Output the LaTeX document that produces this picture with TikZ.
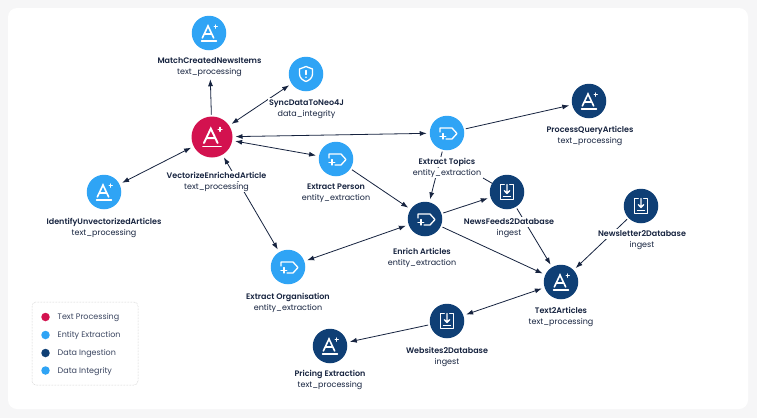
\documentclass[tikz,border=0pt]{standalone}
\usepackage{fontspec}
\setmainfont{Poppins}[BoldFont={Poppins SemiBold}]
\usetikzlibrary{arrows.meta}
\definecolor{pagebg}{HTML}{F6F6F7}
\definecolor{crimson}{HTML}{D3124F}
\definecolor{skyb}{HTML}{2FA4F5}
\definecolor{navyb}{HTML}{0F3F75}
\definecolor{inkb}{HTML}{16233F}
\definecolor{subb}{HTML}{3A4560}
\tikzset{
  x=1pt,y=-1pt,
  circ/.style={circle,inner sep=0pt,minimum size=34.5pt,line width=0},
  lbl/.style={text=inkb,font=\fontsize{8pt}{10pt}\selectfont,fill=white,inner sep=0.8pt,text height=6.5pt,text depth=2pt},
  edge/.style={draw=inkb,line width=0.8pt,-{Latex[length=7pt,width=5pt]},shorten >=3pt,shorten <=2pt},
  both/.style={draw=inkb,line width=0.8pt,{Latex[length=7pt,width=5pt]}-{Latex[length=7pt,width=5pt]},shorten >=3pt,shorten <=3pt},
  iconl/.style={draw=white,line width=1.3pt,line join=round,line cap=round},
  pics/aplus/.style={code={
    \draw[iconl,line width=#1*1.6pt,line join=miter] (-6.7*#1,5*#1) -- (-1*#1,-7*#1) -- (4.7*#1,5*#1) (-4.6*#1,1*#1) -- (2.6*#1,1*#1);
    \draw[iconl,line width=#1*1.4pt] (-7.5*#1,7.8*#1) -- (7.5*#1,7.8*#1);
    \draw[iconl,line width=#1*1.2pt] (6.7*#1,-8*#1) -- (6.7*#1,-4.8*#1) (5.1*#1,-6.4*#1) -- (8.3*#1,-6.4*#1);
  }},
  pics/shield/.style={code={
    \draw[iconl] (0,-7.5) -- (6.5,-5) -- (6.5,0) .. controls (6.5,4) and (3,6.5) .. (0,7.5) .. controls (-3,6.5) and (-6.5,4) .. (-6.5,0) -- (-6.5,-5) -- cycle;
    \draw[iconl] (0,-3.5) -- (0,0.5);
    \fill[white] (0,3.2) circle (0.9);
  }},
  pics/tagplus/.style={code={
    \draw[iconl] (-7,-1) -- (-7,-5) -- (5,-5) -- (10,0.5) -- (5,6) -- (-1,6);
    \draw[iconl] (-4,0.5) -- (-4,6) (-7,3.2) -- (-1.2,3.2);
  }},
  pics/inbox/.style={code={
    \draw[iconl] (-2.8,-7.5) -- (-6.7,-7.5) -- (-6.7,7.5) -- (6.7,7.5) -- (6.7,-7.5) -- (2.8,-7.5);
    \draw[iconl] (0,-7.5) -- (0,1) (-2.6,-1.3) -- (0,1.5) -- (2.6,-1.3);
    \draw[iconl] (-3.5,4.4) -- (3.5,4.4);
  }},
}
\newcommand{\lb}[5]{% name x cy title sub
  \node[lbl] (l#1) at (#2,#3-4.7) {\textbf{#4}};
  \node[lbl] (s#1) at (#2,#3+6.3) {#5};
}
\begin{document}
\begin{tikzpicture}
\useasboundingbox (0,0) rectangle (757,418);
\fill[pagebg] (0,0) rectangle (757,418);
\fill[white] (8,8) [rounded corners=9pt] rectangle (748,409);

% nodes
\node[circ,fill=crimson,minimum size=41pt] (vec) at (212,137) {};
\node[circ,fill=skyb] (match) at (209,33) {};
\node[circ,fill=skyb] (sync) at (306,74) {};
\node[circ,fill=skyb] (ident) at (104,192) {};
\node[circ,fill=skyb] (person) at (336,159) {};
\node[circ,fill=skyb] (topics) at (447,133) {};
\node[circ,fill=skyb] (org) at (288,267) {};
\node[circ,fill=navyb] (query) at (589,101) {};
\node[circ,fill=navyb] (enrich) at (425,219) {};
\node[circ,fill=navyb] (feeds) at (507,192) {};
\node[circ,fill=navyb] (letter) at (641,206) {};
\node[circ,fill=navyb] (t2a) at (561,282) {};
\node[circ,fill=navyb] (web) at (447,321) {};
\node[circ,fill=navyb] (price) at (330,346) {};
\coordinate (cut) at (483,178);

% connectors
\draw[edge,shorten >=29pt] (vec) -- (match);
\draw[both] (vec) -- (sync);
\draw[both] (ident) -- (vec);
\draw[both] (vec) -- (topics);
\draw[both] (vec) -- (person);
\draw[both] (vec) -- (org);
\draw[edge] (topics) -- (query);
\draw[edge] (person) -- (enrich);
\draw[edge] (topics) -- (enrich);
\draw[edge] (enrich) -- (feeds);
\draw[draw=inkb,line width=0.8pt] (cut) -- (feeds);
\draw[edge] (feeds) -- (t2a);
\draw[edge] (enrich) -- (t2a);
\draw[edge] (letter) -- (t2a);
\draw[both] (enrich) -- (org);
\draw[both] (web) -- (t2a);
\draw[edge] (web) -- (price);

% labels
\lb{match}{209.5}{65.5}{MatchCreatedNewsItems}{text\_processing}
\lb{sync}{306.5}{107.5}{SyncDataToNeo4J}{data\_integrity}
\lb{vec}{216.5}{180.5}{VectorizeEnrichedArticle}{text\_processing}
\lb{ident}{104}{226.5}{IdentifyUnvectorizedArticles}{text\_processing}
\lb{person}{336}{192}{Extract Person}{entity\_extraction}
\lb{topics}{447}{166.5}{Extract Topics}{entity\_extraction}
\lb{org}{288}{301.5}{Extract Organisation}{entity\_extraction}
\lb{query}{590}{134.5}{ProcessQueryArticles}{text\_processing}
\lb{enrich}{422}{256.5}{Enrich Articles}{entity\_extraction}
\lb{feeds}{509}{226.5}{NewsFeeds2Database}{ingest}
\lb{letter}{642}{238.5}{Newsletter2Database}{ingest}
\lb{t2a}{561}{316}{Text2Articles}{text\_processing}
\lb{web}{447}{355.5}{Websites2Database}{ingest}
\lb{price}{330}{378.5}{Pricing Extraction}{text\_processing}

% icons
\pic at (vec) {aplus=1.2};
\pic at (match) {aplus=1};
\pic at (ident) {aplus=1};
\pic at (query) {aplus=1};
\pic at (t2a) {aplus=1};
\pic at (price) {aplus=1};
\pic at (sync) {shield};
\pic at (person) {tagplus};
\pic at (topics) {tagplus};
\pic at (org) {tagplus};
\pic at (enrich) {tagplus};
\pic at (feeds) {inbox};
\pic at (letter) {inbox};
\pic at (web) {inbox};

% legend
\draw[draw=black!25,densely dotted,line width=0.5pt,fill=white,rounded corners=4pt] (32,302) rectangle (138,385);
\foreach \nm/\yy/\cc/\tt in {a/317/crimson/Text Processing,b/335/skyb/Entity Extraction,c/353/navyb/Data Ingestion,d/370.5/skyb/Data Integrity}{
  \node[circle,fill=\cc,inner sep=0pt,minimum size=8.5pt] (dot\nm) at (45.5,\yy) {};
  \node[anchor=west,text=subb,inner sep=0pt,font=\fontsize{8pt}{10pt}\selectfont] (txt\nm) at (57.5,\yy+0.8) {\tt};
}
\end{tikzpicture}
\end{document}
